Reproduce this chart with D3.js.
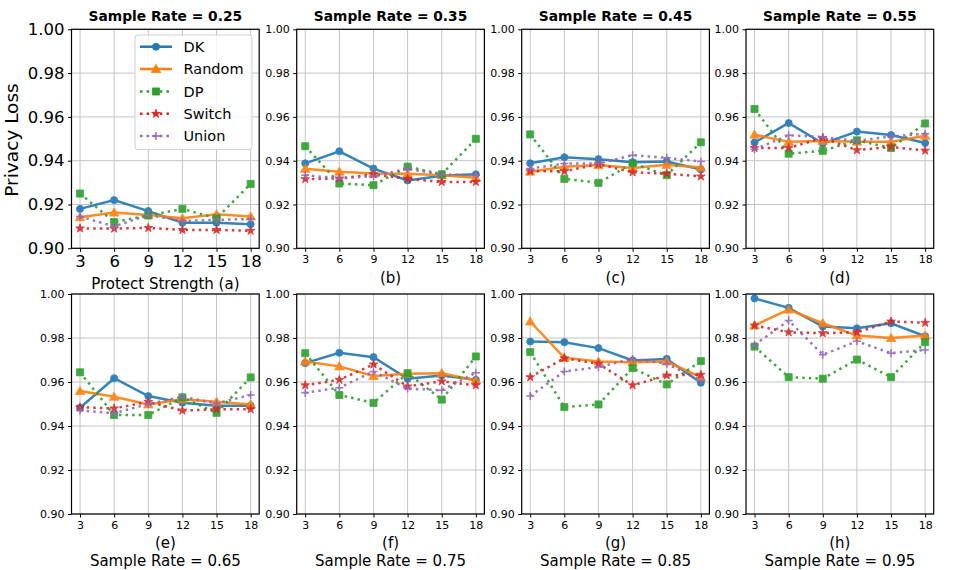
<!DOCTYPE html>
<html><head><meta charset="utf-8">
<script src="https://cdn.jsdelivr.net/npm/d3@7"></script>
<style>body{margin:0;background:#fff}svg{display:block;font-family:"DejaVu Sans",sans-serif}</style>
</head><body><svg id="c" width="953" height="570"></svg>
<script>
const xTicks = [3, 6, 9, 12, 15, 18];
const yTicks = [0.90, 0.92, 0.94, 0.96, 0.98, 1.00];
const seriesNames = ["DK", "Random", "DP", "Switch", "Union"];
const sampleRates = ["0.25", "0.35", "0.45", "0.55", "0.65", "0.75", "0.85", "0.95"];
const panelLetters = ["(a)", "(b)", "(c)", "(d)", "(e)", "(f)", "(g)", "(h)"];

// values per panel (a..h), each: [DK, Random, DP, Switch, Union]
const dkValues = [
  [0.918, 0.922, 0.917, 0.9117, 0.9117, 0.911],
  [0.9388, 0.9443, 0.9364, 0.931, 0.9331, 0.9338],
  [0.9388, 0.9416, 0.9407, 0.9393, 0.9396, 0.936],
  [0.9483, 0.9572, 0.9478, 0.9533, 0.9517, 0.9481],
  [0.9483, 0.9617, 0.9536, 0.9506, 0.9492, 0.9492],
  [0.9686, 0.9733, 0.9713, 0.9615, 0.963, 0.961],
  [0.9784, 0.9781, 0.9754, 0.9698, 0.9705, 0.9597],
  [0.998, 0.9937, 0.9852, 0.9844, 0.9867, 0.9808]
];
const randomValues = [
  [0.9142, 0.9163, 0.9152, 0.9137, 0.9155, 0.9145],
  [0.9363, 0.935, 0.9341, 0.934, 0.9334, 0.9322],
  [0.935, 0.9372, 0.938, 0.9367, 0.9381, 0.9369],
  [0.9519, 0.9486, 0.949, 0.9487, 0.9486, 0.9514],
  [0.9559, 0.9533, 0.9498, 0.9521, 0.951, 0.9498],
  [0.9693, 0.9671, 0.9627, 0.9637, 0.964, 0.9607],
  [0.9875, 0.971, 0.9693, 0.969, 0.9693, 0.9622],
  [0.9857, 0.9929, 0.9867, 0.9811, 0.980, 0.9811]
];
const dpValues = [
  [0.925, 0.912, 0.915, 0.918, 0.9137, 0.9294],
  [0.9466, 0.9296, 0.9288, 0.9373, 0.9338, 0.950],
  [0.952, 0.9317, 0.9299, 0.9388, 0.9334, 0.9484],
  [0.9636, 0.9432, 0.9445, 0.9493, 0.9458, 0.957],
  [0.9644, 0.945, 0.945, 0.953, 0.946, 0.9621],
  [0.9731, 0.9541, 0.9505, 0.964, 0.952, 0.9716],
  [0.9736, 0.9486, 0.9498, 0.9663, 0.9589, 0.9695],
  [0.9761, 0.9622, 0.9615, 0.9702, 0.9622, 0.9781]
];
const switchValues = [
  [0.9091, 0.909, 0.9093, 0.9084, 0.9084, 0.908],
  [0.9316, 0.9319, 0.9338, 0.9317, 0.9303, 0.9303],
  [0.9352, 0.9352, 0.9384, 0.9347, 0.9341, 0.9328],
  [0.9458, 0.9458, 0.9504, 0.9448, 0.9463, 0.9446],
  [0.9485, 0.948, 0.951, 0.947, 0.9476, 0.9476],
  [0.9585, 0.961, 0.968, 0.958, 0.9603, 0.9585],
  [0.9622, 0.9708, 0.9683, 0.9585, 0.963, 0.9633],
  [0.9857, 0.9826, 0.9822, 0.9826, 0.9875, 0.9869]
];
const unionValues = [
  [0.9145, 0.910, 0.9152, 0.9125, 0.913, 0.9134],
  [0.9334, 0.9319, 0.933, 0.9363, 0.9337, 0.9334],
  [0.9364, 0.9387, 0.9387, 0.9425, 0.9413, 0.9396],
  [0.9452, 0.9516, 0.9508, 0.949, 0.9511, 0.9523],
  [0.947, 0.9458, 0.950, 0.9533, 0.9503, 0.9541],
  [0.9551, 0.9574, 0.9648, 0.957, 0.9562, 0.9642],
  [0.9536, 0.9648, 0.9668, 0.9705, 0.9683, 0.9607],
  [0.9769, 0.9879, 0.9724, 0.9785, 0.9731, 0.9746]
];
const allValues = [dkValues, randomValues, dpValues, switchValues, unionValues];

const colors = ["#1f77b4", "#ff7f0e", "#2ca02c", "#d62728", "#9467bd"];
const dashed = [false, false, true, true, true];
const markers = ["circle", "triangle", "square", "star", "plus"];

const svg = d3.select("#c");
const lefts = [71.5, 296.7, 521.7, 746];
const W = 187.7;
const tops = [29.3, 294];
const H = [219, 220];

function drawMarker(g, type, x, y, color) {
  if (type === "plus") {
    g.append("path").attr("d", `M${x-4},${y}H${x+4}M${x},${y-4}V${y+4}`)
      .attr("stroke", color).attr("stroke-width", 1.5).attr("fill", "none");
    return;
  }
  const map = {circle: [d3.symbolCircle, 40], triangle: [d3.symbolTriangle, 38], square: [d3.symbolSquare, 50], star: [d3.symbolStar, 24]};
  const [sym, size] = map[type];
  g.append("path").attr("d", d3.symbol().type(sym).size(size)())
    .attr("transform", `translate(${x},${y + (type === "triangle" ? 0.8 : 0)})`)
    .attr("fill", color).attr("stroke", color).attr("stroke-width", 0.8);
}

for (let p = 0; p < 8; p++) {
  const row = p < 4 ? 0 : 1, col = p % 4;
  const big = p === 0;
  const x0 = lefts[col], y0 = tops[row], h = H[row];
  const x = d3.scaleLinear().domain([2.25, 18.75]).range([x0, x0 + W]);
  const y = d3.scaleLinear().domain([0.90, 1.00]).range([y0 + h, y0]);
  const g = svg.append("g");

  // grid
  g.selectAll(".gx").data(xTicks).enter().append("line")
    .attr("x1", d => x(d)).attr("x2", d => x(d)).attr("y1", y0).attr("y2", y0 + h)
    .attr("stroke", "#c4c4c4").attr("stroke-width", 1);
  g.selectAll(".gy").data(yTicks).enter().append("line")
    .attr("x1", x0).attr("x2", x0 + W).attr("y1", d => y(d)).attr("y2", d => y(d))
    .attr("stroke", "#c4c4c4").attr("stroke-width", 1);

  // series
  for (let s = 0; s < 5; s++) {
    const vals = allValues[s][p];
    const pts = xTicks.map((t, i) => [t, vals[i]]);
    const sg = g.append("g").attr("opacity", 0.9);
    sg.append("path").datum(pts)
      .attr("d", d3.line().x(d => x(d[0])).y(d => y(d[1])))
      .attr("fill", "none").attr("stroke", colors[s]).attr("stroke-width", 2.5)
      .attr("stroke-dasharray", dashed[s] ? "2.5,4.1" : null);
    pts.forEach(d => drawMarker(sg, markers[s], x(d[0]), y(d[1]), colors[s]));
  }

  // frame
  g.append("rect").attr("x", x0).attr("y", y0).attr("width", W).attr("height", h)
    .attr("fill", "none").attr("stroke", "#000").attr("stroke-width", 1.2);

  // axes
  const fs = big ? 16.5 : 11;
  const xa = g.append("g").attr("transform", `translate(0,${y0 + h})`)
    .call(d3.axisBottom(x).tickValues(xTicks).tickSize(3.5).tickPadding(big ? 3 : 3.5));
  const ya = g.append("g").attr("transform", `translate(${x0},0)`)
    .call(d3.axisLeft(y).tickValues(yTicks).tickFormat(d3.format(".2f")).tickSize(3.5).tickPadding(3.5));
  [xa, ya].forEach(a => {
    a.select(".domain").remove();
    a.selectAll("text").attr("font-size", fs).attr("font-family", "DejaVu Sans").attr("fill", "#000");
    a.selectAll("line").attr("stroke", "#000").attr("stroke-width", 1);
  });

  const cx = x0 + W / 2;
  if (row === 0) {
    svg.append("text").attr("x", cx).attr("y", 21).attr("text-anchor", "middle")
      .attr("font-size", 13.8).attr("font-weight", "bold")
      .text("Sample Rate = " + sampleRates[p]);
    if (big) {
      svg.append("text").attr("x", cx).attr("y", 288.5).attr("text-anchor", "middle")
        .attr("font-size", 15).text("Protect Strength " + panelLetters[p]);
    } else {
      svg.append("text").attr("x", cx).attr("y", 282.5).attr("text-anchor", "middle")
        .attr("font-size", 15).text(panelLetters[p]);
    }
  } else {
    svg.append("text").attr("x", cx).attr("y", 547.5).attr("text-anchor", "middle")
      .attr("font-size", 15).text(panelLetters[p]);
    svg.append("text").attr("x", cx).attr("y", 565.5).attr("text-anchor", "middle")
      .attr("font-size", 15).text("Sample Rate = " + sampleRates[p]);
  }

  if (big) {
    // legend
    const lg = svg.append("g");
    lg.append("rect").attr("x", 135).attr("y", 35).attr("width", 117).attr("height", 114.5)
      .attr("rx", 3).attr("fill", "#fff").attr("fill-opacity", 0.85)
      .attr("stroke", "#d0d0d0").attr("stroke-width", 1);
    const rowsY = [46.7, 69, 91.5, 113.8, 136];
    seriesNames.forEach((n, s) => {
      const ly = rowsY[s];
      lg.append("line").attr("x1", 140).attr("x2", 172).attr("y1", ly).attr("y2", ly)
        .attr("stroke", colors[s]).attr("stroke-width", 2.5)
        .attr("stroke-dasharray", dashed[s] ? "2.5,4.1" : null);
      drawMarker(lg, markers[s], 156, ly, colors[s]);
      lg.append("text").attr("x", 183.5).attr("y", ly + 5).attr("font-size", 14.5).text(n);
    });
  }
}

svg.append("text").attr("transform", "translate(18,140) rotate(-90)")
  .attr("text-anchor", "middle").attr("font-size", 18.5).text("Privacy Loss");
</script>
</body></html>
